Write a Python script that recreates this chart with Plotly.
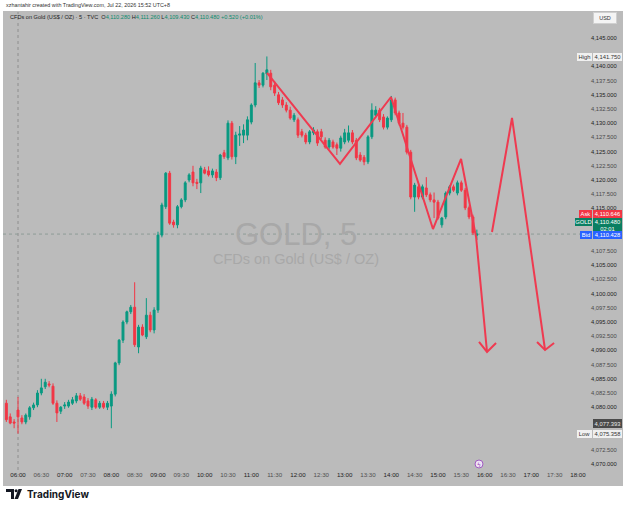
import plotly.graph_objects as go
import pandas as pd

# ---------------- data (5-minute candles, GOLD CFD) ----------------
start_time = "2026-07-22 05:45"

opens = [4080.7, 4078.3, 4077.4, 4079.5, 4078.1, 4077.4, 4078.3, 4079.9, 4080.4, 4082.5,
         4083.6, 4084.1, 4083.7, 4080.7, 4079.3, 4080.2, 4080.2, 4080.7, 4081.1, 4082.0,
         4081.8, 4081.1, 4080.0, 4081.3, 4080.0, 4080.7, 4080.0, 4080.2, 4082.3, 4087.8,
         4091.8, 4095.0, 4096.8, 4097.6, 4090.6, 4094.1, 4092.4, 4096.2, 4093.6, 4097.1,
         4110.3, 4115.3, 4121.2, 4112.6, 4112.1, 4115.3, 4116.5, 4120.0, 4121.4, 4119.6,
         4119.5, 4121.8, 4121.6, 4120.9, 4121.4, 4120.4, 4124.8, 4123.9, 4130.0, 4124.1,
         4127.9, 4127.9, 4127.9, 4130.2, 4133.2, 4137.1, 4136.7, 4138.7, 4138.8, 4136.7,
         4135.0, 4134.1, 4133.2, 4132.3, 4130.6, 4130.6, 4128.5, 4127.9, 4126.7, 4128.3,
         4128.5, 4128.5, 4127.0, 4125.8, 4126.7, 4126.2, 4125.6, 4126.7, 4127.0, 4128.3,
         4127.0, 4124.4, 4124.0, 4123.2, 4127.6, 4131.4, 4132.3, 4131.1, 4129.3, 4130.6,
         4134.1, 4131.8, 4130.0, 4129.3, 4124.9, 4117.0, 4118.8, 4117.0, 4118.6, 4117.4,
         4116.5, 4116.1, 4112.1, 4113.5, 4117.7, 4118.8, 4117.7, 4119.5, 4118.2, 4115.1,
         4113.5, 4110.28]

highs = [4081.3, 4078.9, 4077.9, 4081.8, 4078.6, 4078.9, 4080.2, 4080.8, 4083.0, 4085.0,
         4085.0, 4084.6, 4084.2, 4081.2, 4080.2, 4080.9, 4081.3, 4081.8, 4082.5, 4082.5,
         4082.3, 4081.6, 4081.8, 4081.6, 4081.1, 4081.1, 4081.1, 4082.8, 4088.0, 4092.0,
         4095.3, 4097.0, 4098.0, 4102.0, 4094.5, 4094.6, 4099.2, 4096.8, 4097.6, 4110.9,
         4116.0, 4121.4, 4121.6, 4113.0, 4115.6, 4116.8, 4119.8, 4121.2, 4122.5, 4120.2,
         4122.5, 4122.3, 4122.4, 4122.0, 4121.9, 4124.6, 4125.3, 4130.5, 4130.4, 4128.5,
         4129.5, 4129.8, 4131.2, 4133.5, 4140.6, 4137.6, 4139.0, 4141.75, 4139.4, 4137.4,
         4135.5, 4134.6, 4133.7, 4132.9, 4131.8, 4131.0, 4129.0, 4128.3, 4128.8, 4129.3,
         4128.9, 4129.0, 4127.5, 4127.4, 4127.1, 4126.6, 4127.8, 4129.0, 4129.6, 4128.8,
         4127.4, 4124.9, 4124.4, 4127.9, 4133.5, 4133.0, 4132.7, 4131.6, 4131.2, 4134.8,
         4134.5, 4132.2, 4131.8, 4129.7, 4125.3, 4119.5, 4119.3, 4119.2, 4120.5, 4117.8,
         4117.8, 4116.5, 4113.5, 4118.0, 4119.1, 4119.2, 4119.9, 4119.9, 4118.6, 4115.5,
         4113.9, 4111.26]

lows = [4077.4, 4077.0, 4076.3, 4075.358, 4077.0, 4077.0, 4077.8, 4079.5, 4080.0, 4082.1,
        4083.2, 4083.5, 4080.4, 4077.4, 4078.8, 4079.7, 4079.9, 4080.4, 4080.7, 4081.1,
        4080.4, 4079.7, 4079.5, 4079.7, 4079.7, 4079.7, 4079.5, 4076.3, 4081.9, 4087.4,
        4091.3, 4094.6, 4096.4, 4090.6, 4089.5, 4092.5, 4092.0, 4093.2, 4093.0, 4096.6,
        4109.9, 4114.9, 4112.1, 4111.6, 4111.5, 4115.0, 4116.1, 4119.6, 4118.9, 4118.4,
        4117.7, 4121.0, 4120.6, 4120.4, 4119.8, 4120.0, 4123.7, 4123.5, 4123.6, 4122.8,
        4126.0, 4126.5, 4127.0, 4129.8, 4132.8, 4136.2, 4136.3, 4137.6, 4135.8, 4134.8,
        4133.2, 4132.7, 4131.9, 4130.6, 4130.2, 4127.4, 4127.5, 4126.3, 4126.3, 4127.9,
        4126.0, 4127.2, 4125.5, 4125.4, 4125.5, 4124.4, 4125.0, 4126.3, 4126.6, 4126.3,
        4123.5, 4123.2, 4122.6, 4122.8, 4127.2, 4131.0, 4130.2, 4128.9, 4128.9, 4130.2,
        4131.4, 4129.6, 4128.9, 4124.5, 4116.6, 4114.4, 4116.6, 4116.6, 4117.0, 4116.1,
        4113.3, 4113.0, 4111.6, 4113.1, 4117.3, 4117.9, 4117.3, 4117.9, 4114.7, 4113.1,
        4110.3, 4109.43]

closes = [4077.8, 4077.2, 4077.2, 4078.3, 4077.4, 4078.6, 4079.9, 4080.4, 4082.5, 4083.4,
          4084.4, 4083.9, 4080.7, 4079.0, 4080.0, 4080.4, 4080.9, 4081.3, 4082.0, 4081.4,
          4080.7, 4080.2, 4081.4, 4080.0, 4080.7, 4080.0, 4080.7, 4082.3, 4087.8, 4091.8,
          4095.0, 4096.8, 4097.6, 4091.0, 4094.1, 4092.7, 4096.2, 4093.6, 4097.1, 4110.3,
          4115.6, 4121.2, 4112.4, 4112.1, 4115.3, 4116.5, 4119.5, 4120.9, 4119.5, 4119.4,
          4122.1, 4121.2, 4120.9, 4121.6, 4120.4, 4124.4, 4124.1, 4130.0, 4124.1, 4127.9,
          4128.1, 4128.8, 4130.6, 4133.2, 4137.1, 4136.7, 4138.8, 4139.4, 4136.4, 4135.3,
          4133.6, 4133.2, 4132.3, 4130.9, 4131.4, 4127.9, 4127.9, 4126.7, 4128.5, 4128.8,
          4126.5, 4127.6, 4125.8, 4127.0, 4125.8, 4125.6, 4127.4, 4128.3, 4128.3, 4126.7,
          4123.9, 4123.5, 4123.2, 4127.6, 4132.3, 4132.3, 4130.6, 4129.3, 4130.9, 4134.1,
          4131.8, 4130.0, 4129.3, 4124.9, 4117.0, 4119.1, 4117.0, 4118.8, 4117.4, 4116.5,
          4116.1, 4113.3, 4113.3, 4117.7, 4118.8, 4118.2, 4119.5, 4118.2, 4115.1, 4113.5,
          4110.7, 4110.48]

# user drawings (red lines)
zigzag_t = ["2026-07-22 11:20:12", "2026-07-22 12:54:00", "2026-07-22 13:59:36",
            "2026-07-22 14:53:36", "2026-07-22 15:29:42", "2026-07-22 15:49:00",
            "2026-07-22 16:03:06"]
zigzag_p = [4138.84, 4122.82, 4134.61, 4111.37, 4123.70, 4109.96, 4089.72]
head1_t = ["2026-07-22 15:52:48", "2026-07-22 16:03:06", "2026-07-22 16:14:42"]
head1_p = [4091.48, 4089.72, 4091.30]
peak_t = ["2026-07-22 16:09:30", "2026-07-22 16:35:12", "2026-07-22 17:17:42"]
peak_p = [4110.85, 4130.92, 4090.07]
head2_t = ["2026-07-22 17:07:24", "2026-07-22 17:17:42", "2026-07-22 17:29:18"]
head2_p = [4091.48, 4090.07, 4091.30]

# price-axis ticks (those hidden behind the price labels are left out)
price_ticks = [4070.0, 4072.5, 4080.0, 4082.5, 4085.0, 4087.5, 4090.0, 4092.5, 4095.0,
               4097.5, 4100.0, 4102.5, 4105.0, 4107.5, 4115.0, 4117.5, 4120.0, 4122.5,
               4125.0, 4127.5, 4130.0, 4132.5, 4135.0, 4137.5, 4140.0, 4145.0]
last_price = 4110.48
session_start = "2026-07-22 06:00"

# ---------------- figure ----------------
W, H = 625, 510
def px(x): return x / W
def py(y): return 1 - y / H

UP = "#089981"
DN = "#f23645"
BG = "#bbbbbb"
DRAW = "#ef3a50"
FONT = "Liberation Sans, Arial, sans-serif"

times = pd.date_range(start_time, periods=len(opens), freq="5min")

fig = go.Figure()
fig.add_trace(go.Candlestick(
    x=times, open=opens, high=highs, low=lows, close=closes,
    increasing=dict(line=dict(color=UP, width=1), fillcolor=UP),
    decreasing=dict(line=dict(color=DN, width=1), fillcolor=DN),
    whiskerwidth=0, hoverinfo="skip", showlegend=False))

for tx, ty in [(zigzag_t, zigzag_p), (head1_t, head1_p), (peak_t, peak_p), (head2_t, head2_p)]:
    fig.add_trace(go.Scatter(x=tx, y=ty, mode="lines",
                             line=dict(color=DRAW, width=2),
                             hoverinfo="skip", showlegend=False))

xticks = pd.date_range("2026-07-22 06:00", "2026-07-22 18:00", freq="30min")
xtext = [(f"<span style='color:#1e1e1e'>{t:%H:%M}</span>" if t.minute == 0
          else f"<span style='color:#505050'>{t:%H:%M}</span>") for t in xticks]
ytext = [(f"<span style='color:#1e1e1e'>{v:,.3f}</span>" if v % 5 == 0
          else f"<span style='color:#4a4a4a'>{v:,.3f}</span>") for v in price_ticks]

shapes = [
    dict(type="rect", xref="paper", yref="paper", x0=px(3), x1=px(623), y0=py(486), y1=py(11),
         fillcolor=BG, line=dict(width=0), layer="below"),
    dict(type="line", xref="x", yref="paper", x0=session_start, x1=session_start,
         y0=py(470), y1=py(12), line=dict(color="#8e8e8e", width=1, dash="dot"), layer="below"),
    dict(type="line", xref="paper", yref="y", x0=px(3), x1=px(590), y0=last_price, y1=last_price,
         line=dict(color="#8f9c97", width=1, dash="dot"), layer="below"),
    dict(type="circle", xref="paper", yref="paper", x0=px(475), x1=px(483), y0=py(468), y1=py(460),
         fillcolor="#efe3f5", line=dict(color="#a05cc0", width=1)),
    dict(type="path", xref="paper", yref="paper",
         path=f"M {px(6)} {py(489)} L {px(14)} {py(489)} L {px(14)} {py(499)} L {px(11)} {py(499)} "
              f"L {px(11)} {py(492)} L {px(6)} {py(492)} Z",
         fillcolor="#131722", line=dict(width=0)),
    dict(type="circle", xref="paper", yref="paper", x0=px(14.6), x1=px(17.6), y0=py(492.3), y1=py(489.3),
         fillcolor="#131722", line=dict(width=0)),
    dict(type="path", xref="paper", yref="paper",
         path=f"M {px(18.5)} {py(489)} L {px(22)} {py(489)} L {px(18)} {py(499)} L {px(14.5)} {py(499)} Z",
         fillcolor="#131722", line=dict(width=0)),
]

def box(x0, x1, yc, h, text, bg, fg, size=5.8, border=None):
    return dict(xref="paper", yref="paper", x=px((x0 + x1) / 2), y=py(yc),
                xanchor="center", yanchor="middle", text=text, showarrow=False,
                font=dict(size=size, color=fg, family=FONT), bgcolor=bg,
                width=x1 - x0, height=h, borderpad=0,
                bordercolor=border if border else bg, borderwidth=0 if border is None else 1)

annotations = [
    dict(xref="paper", yref="paper", x=px(4), y=py(5.5), xanchor="left", yanchor="middle",
         text="xzhantahir created with TradingView.com, Jul 22, 2026 15:52 UTC+8",
         showarrow=False, font=dict(size=5.4, color="#333333", family=FONT)),
    dict(xref="paper", yref="paper", x=px(8), y=py(17.5), xanchor="left", yanchor="middle",
         text=("<span style='color:#222'>CFDs on Gold (US$ / OZ) · 5 · TVC</span>  "
               "<span style='color:#222'>O</span><span style='color:#0b8a6c'>4,110.280</span> "
               "<span style='color:#222'>H</span><span style='color:#0b8a6c'>4,111.260</span> "
               "<span style='color:#222'>L</span><span style='color:#0b8a6c'>4,109.430</span> "
               "<span style='color:#222'>C</span><span style='color:#0b8a6c'>4,110.480</span> "
               "<span style='color:#0b8a6c'>+0.520 (+0.01%)</span>"),
         showarrow=False, font=dict(size=5.6, color="#222", family=FONT)),
    dict(xref="paper", yref="paper", x=px(296), y=py(235), xanchor="center", yanchor="middle",
         text="GOLD, 5", showarrow=False, font=dict(size=31, color="#a8a8a8", family=FONT)),
    dict(xref="paper", yref="paper", x=px(296), y=py(259), xanchor="center", yanchor="middle",
         text="CFDs on Gold (US$ / OZ)", showarrow=False,
         font=dict(size=14.5, color="#a8a8a8", family=FONT)),
    dict(xref="paper", yref="paper", x=px(479), y=py(464), xanchor="center", yanchor="middle",
         text="ϟ", showarrow=False, font=dict(size=6, color="#8e3fb0", family="DejaVu Sans")),
    dict(xref="paper", yref="paper", x=px(25), y=py(494.5), xanchor="left", yanchor="middle",
         text="<b>TradingView</b>", showarrow=False,
         font=dict(size=10, color="#131722", family="Inter, Liberation Sans, sans-serif")),
    box(594, 616, 18.5, 10, "USD", "#f4f4f4", "#333", size=5.5, border="#d0d0d0"),
    box(577, 592, 57, 8, "High", "#f0f0f0", "#333"),
    box(593, 622, 57, 8, "4,141.750", "#f0f0f0", "#333"),
    box(579, 592, 214, 8, "Ask", DN, "#ffffff"),
    box(593, 622, 214, 8, "4,110.646", DN, "#ffffff"),
    box(575, 592, 222, 8, "GOLD", "#0a7f62", "#ffffff"),
    box(593, 622, 225, 15, "4,110.480<br>02:01", "#0a7f62", "#ffffff"),
    box(580, 592, 235, 8, "Bid", "#2962ff", "#ffffff"),
    box(593, 622, 235, 8, "4,110.428", "#2962ff", "#ffffff"),
    box(593, 622, 423, 9, "4,077.393", "#4a4a4a", "#e8e8e8"),
    box(577, 592, 434, 8, "Low", "#f0f0f0", "#333"),
    box(593, 622, 434, 8, "4,075.358", "#f0f0f0", "#333"),
]

fig.update_layout(
    width=W, height=H, margin=dict(l=0, r=0, t=0, b=0),
    paper_bgcolor="#ffffff", plot_bgcolor="rgba(0,0,0,0)",
    font=dict(family=FONT),
    showlegend=False, shapes=shapes, annotations=annotations,
    xaxis=dict(domain=[px(3), px(590)], type="date",
               range=["2026-07-22 05:40:42", "2026-07-22 18:15:30"],
               tickvals=list(xticks), ticktext=xtext, tickfont=dict(size=6.2, family=FONT),
               showgrid=False, zeroline=False, showline=False, ticks="",
               rangeslider=dict(visible=False), fixedrange=True),
    yaxis=dict(domain=[py(470), py(12)], side="right",
               range=[4068.944, 4149.577],
               tickvals=price_ticks, ticktext=ytext, tickfont=dict(size=5.8, family=FONT),
               showgrid=False, zeroline=False, showline=False, ticks="", fixedrange=True),
)

fig.write_html("out.html")
